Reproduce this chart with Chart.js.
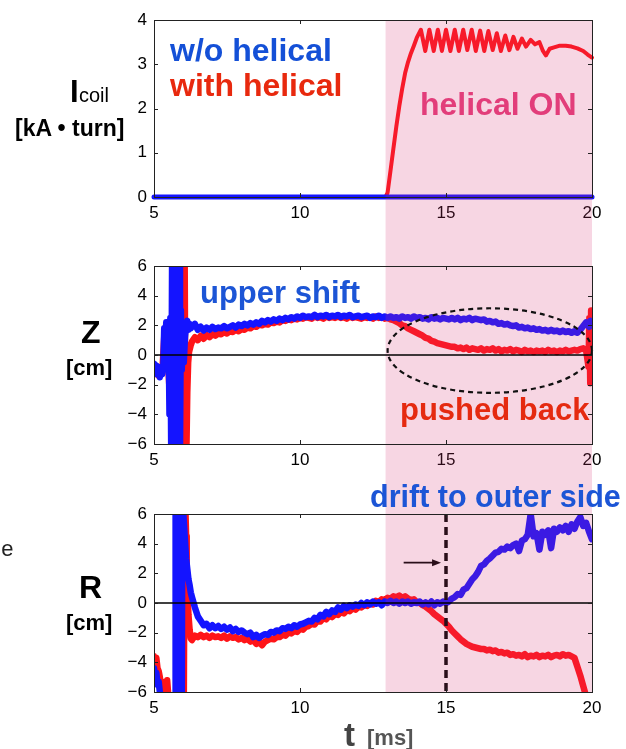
<!DOCTYPE html>
<html><head><meta charset="utf-8">
<script src="https://cdn.jsdelivr.net/npm/chart.js@4/dist/chart.umd.min.js"></script>
<style>
html,body{margin:0;padding:0;background:#fff;}
body{width:626px;height:749px;overflow:hidden;position:relative;font-family:"Liberation Sans",Arial,Helvetica,sans-serif;}
canvas{position:absolute;left:0;}
.t{position:absolute;white-space:nowrap;font-weight:bold;line-height:1;}
</style></head><body>
<canvas id="c1" width="626" height="240" style="top:0px"></canvas>
<canvas id="c2" width="626" height="245" style="top:240px"></canvas>
<canvas id="c3" width="626" height="264" style="top:485px"></canvas>

<div class="t" data-b="61" style="left:170px;font-size:32px;color:#1450d7">w/o helical</div>
<div class="t" data-b="96" style="left:170px;font-size:32px;color:#e8290e">with helical</div>
<div class="t" data-b="115" style="left:420px;font-size:32px;color:#e23d7a">helical ON</div>
<div class="t" data-b="303" style="left:200px;font-size:31px;color:#1c55d6">upper shift</div>
<div class="t" data-b="420" style="left:400px;font-size:31px;color:#e52a10">pushed back</div>
<div class="t" data-b="507" style="left:370px;font-size:30.5px;color:#1c55d6">drift to outer side</div>

<div class="t" data-b="102" style="left:70px;font-size:31px;color:#000">I</div>
<div class="t" data-b="102" style="left:79px;font-size:20px;font-weight:normal;color:#000">coil</div>
<div class="t" data-b="136" style="left:15px;font-size:23px;color:#000">[kA • turn]</div>
<div class="t" data-b="343" style="left:81px;font-size:32px;color:#000">Z</div>
<div class="t" data-b="376" style="left:66px;font-size:22px;color:#000">[cm]</div>
<div class="t" data-b="598" style="left:79px;font-size:32px;color:#000">R</div>
<div class="t" data-b="631" style="left:66px;font-size:22px;color:#000">[cm]</div>
<div class="t" data-b="746" style="left:344px;font-size:33px;color:#444">t</div>
<div class="t" data-b="746" style="left:367px;font-size:22px;color:#555">[ms]</div>
<div class="t" data-b="557" style="left:-11px;font-size:22px;font-weight:normal;color:#222">de</div>

<script>
// ---------- axis ticks ----------
const X_TICKS = [5, 10, 15, 20];
const I_TICKS = [0, 1, 2, 3, 4];
const ZR_TICKS = [-6, -4, -2, 0, 2, 4, 6];
const HELICAL_ON_T = 12.93;

// ---------- panel 1: coil current ----------
const I_blue_t = [5, 20];
const I_blue_v = [0, 0];
const I_red_t = [5, 12.93, 13.0, 13.1, 13.2, 13.3, 13.4, 13.5, 13.6, 13.7, 13.8, 13.9, 14.0,
  14.14, 14.29, 14.43, 14.58, 14.72, 14.86, 15.0, 15.15, 15.3, 15.44, 15.59, 15.73, 15.88, 16.02,
  16.17, 16.31, 16.45, 16.6, 16.74, 16.88, 17.03, 17.17, 17.31, 17.45, 17.6,
  17.74, 17.9, 18.05, 18.2, 18.32, 18.42, 18.55, 18.7, 18.9, 19.1, 19.3, 19.5, 19.7, 19.85, 20.0];
const I_red_v = [0, 0, 0.1, 0.6, 1.1, 1.6, 2.05, 2.45, 2.8, 3.05, 3.25, 3.42, 3.6,
  3.78, 3.3, 3.78, 3.3, 3.78, 3.3, 3.78, 3.3, 3.78, 3.3, 3.78, 3.32, 3.78, 3.3,
  3.76, 3.3, 3.75, 3.32, 3.7, 3.3, 3.65, 3.32, 3.62, 3.35, 3.58,
  3.4, 3.55, 3.45, 3.5, 3.3, 3.2, 3.35, 3.38, 3.42, 3.42, 3.4, 3.36, 3.3, 3.22, 3.15];

// ---------- shared time base for panels 2 and 3 (ms) ----------
const T_MAIN = [
  6.3, 6.4, 6.5, 6.6, 6.7, 6.8, 6.9, 7.0, 7.1, 7.2,
  7.3, 7.4, 7.5, 7.6, 7.7, 7.8, 7.9, 8.0, 8.1, 8.2,
  8.3, 8.4, 8.5, 8.6, 8.7, 8.8, 8.9, 9.0, 9.1, 9.2,
  9.3, 9.4, 9.5, 9.6, 9.7, 9.8, 9.9, 10.0, 10.1, 10.2,
  10.3, 10.4, 10.5, 10.6, 10.7, 10.8, 10.9, 11.0, 11.1, 11.2,
  11.3, 11.4, 11.5, 11.6, 11.7, 11.8, 11.9, 12.0, 12.1, 12.2,
  12.3, 12.4, 12.5, 12.6, 12.7, 12.8, 12.9, 13.0, 13.1, 13.2,
  13.3, 13.4, 13.5, 13.6, 13.7, 13.8, 13.9, 14.0, 14.1, 14.2,
  14.3, 14.4, 14.5, 14.6, 14.7, 14.8, 14.9, 15.0, 15.1, 15.2,
  15.3, 15.4, 15.5, 15.6, 15.7, 15.8, 15.9, 16.0, 16.1, 16.2,
  16.3, 16.4, 16.5, 16.6, 16.7, 16.8, 16.9, 17.0, 17.1, 17.2,
  17.3, 17.4, 17.5, 17.6, 17.7, 17.8, 17.9, 18.0, 18.1, 18.2,
  18.3, 18.4, 18.5, 18.6, 18.7, 18.8, 18.9, 19.0, 19.1, 19.2,
  19.3, 19.4, 19.5, 19.6, 19.7, 19.8];

// ---------- panel 2: Z ----------
const Z_blue_early = [[5.0,-0.6],[5.04,-1.1],[5.08,-0.7],[5.12,-1.3],[5.16,-0.8],[5.2,-1.5],[5.24,-0.9],[5.28,-1.3],[5.32,-0.7],
  [5.35,1.8],[5.38,0.6],[5.42,2.2],[5.46,0.0],[5.5,1.5],[5.53,-4.0],[5.56,2.5],[5.59,-6.5],[5.62,6.5],[5.65,-6.5],[5.68,6.5],
  [5.71,-6.5],[5.74,6.5],[5.77,-6.5],[5.8,6.5],[5.83,-6.5],[5.86,6.5],[5.89,-6.5],[5.92,3.0],[5.95,-1.0],[5.98,1.5],
  [6.02,-0.5],[6.06,1.2],[6.1,2.0],[6.14,2.3],[6.18,1.7],[6.22,2.1],[6.26,1.8]];
const Z_blue_main = [
  1.9, 2.1, 1.7, 1.9, 1.65, 1.85, 1.7, 1.9, 1.75, 1.85,
  1.8, 1.95, 1.8, 1.9, 2.0, 1.85, 2.05, 1.95, 2.1, 2.0,
  2.15, 2.05, 2.2, 2.1, 2.3, 2.2, 2.35, 2.25, 2.4, 2.3,
  2.45, 2.35, 2.5, 2.4, 2.55, 2.45, 2.6, 2.5, 2.65, 2.55,
  2.6, 2.55, 2.7, 2.55, 2.65, 2.6, 2.7, 2.55, 2.65, 2.6,
  2.7, 2.55, 2.65, 2.6, 2.7, 2.55, 2.6, 2.65, 2.55, 2.6,
  2.65, 2.5, 2.6, 2.55, 2.65, 2.5, 2.6, 2.5, 2.6, 2.5,
  2.55, 2.45, 2.6, 2.5, 2.55, 2.45, 2.6, 2.5, 2.55, 2.45,
  2.5, 2.4, 2.55, 2.45, 2.5, 2.4, 2.5, 2.45, 2.4, 2.5,
  2.4, 2.5, 2.35, 2.45, 2.4, 2.5, 2.35, 2.45, 2.4, 2.35,
  2.4, 2.25, 2.3, 2.2, 2.25, 2.1, 2.15, 2.05, 2.1, 2.0,
  1.95, 2.0, 1.85, 1.9, 1.8, 1.85, 1.75, 1.8, 1.7, 1.75,
  1.65, 1.7, 1.6, 1.7, 1.6, 1.65, 1.55, 1.65, 1.55, 1.6,
  1.5, 1.6, 1.5, 1.7, 1.95, 2.2];
const Z_blue_tail = [[19.9,1.9],[19.95,2.3],[20.0,2.0]];

const Z_red_early = [[5.0,-0.7],[5.05,-1.2],[5.1,-0.8],[5.15,-1.4],[5.2,-1.0],[5.25,-1.3],[5.3,-0.6],[5.35,1.2],[5.4,0.2],
  [5.45,1.8],[5.5,-1.2],[5.55,-3.0],[5.6,1.5],[5.65,-2.0],[5.7,1.0],[5.75,-1.5],[5.8,0.5],[5.85,-1.0],[5.9,0.5],
  [5.93,6.5],[5.96,-6.5],[5.99,6.5],[6.02,-6.5],[6.05,6.5],[6.08,-6.5],[6.11,-6.5],[6.14,-2.5],[6.17,-0.5],[6.2,0.2],[6.25,0.6]];
const Z_red_main = [
  0.9, 1.2, 1.0, 1.3, 1.1, 1.35, 1.2, 1.4, 1.3, 1.45,
  1.4, 1.55, 1.45, 1.6, 1.55, 1.7, 1.6, 1.75, 1.7, 1.85,
  1.8, 1.95, 1.9, 2.05, 2.0, 2.1, 2.05, 2.2, 2.15, 2.25,
  2.2, 2.35, 2.3, 2.4, 2.35, 2.45, 2.4, 2.5, 2.45, 2.55,
  2.5, 2.45, 2.6, 2.5, 2.55, 2.45, 2.6, 2.5, 2.55, 2.5,
  2.6, 2.5, 2.55, 2.45, 2.6, 2.5, 2.55, 2.5, 2.45, 2.55,
  2.5, 2.55, 2.45, 2.6, 2.5, 2.55, 2.45, 2.5, 2.4, 2.35,
  2.25, 2.15, 2.0, 1.95, 1.8, 1.7, 1.6, 1.5, 1.4, 1.3,
  1.15, 1.1, 0.95, 0.9, 0.8, 0.75, 0.7, 0.65, 0.6, 0.55,
  0.55, 0.45, 0.5, 0.4, 0.5, 0.35, 0.45, 0.4, 0.35, 0.45,
  0.3, 0.4, 0.35, 0.45, 0.3, 0.4, 0.25, 0.35, 0.3, 0.4,
  0.25, 0.35, 0.3, 0.2, 0.35, 0.25, 0.3, 0.2, 0.3, 0.25,
  0.3, 0.2, 0.35, 0.25, 0.3, 0.2, 0.3, 0.25, 0.35, 0.25,
  0.3, 0.35, 0.3, 0.4, 0.45, 0.3];
const Z_red_tail = [[19.88,-0.8],[19.91,2.5],[19.94,-1.9],[19.97,3.0],[20.0,-1.0]];

// ---------- panel 3: R ----------
const R_blue_early = [[5.0,-4.4],[5.04,-5.1],[5.08,-4.7],[5.12,-5.5],[5.16,-5.3],[5.2,-6.0],[5.24,-6.5],[5.5,-7],[5.72,-7],
  [5.74,7],[5.77,-7],[5.8,7],[5.83,-7],[5.86,7],[5.89,-7],[5.92,7],[5.95,-7],[5.97,7],[6.02,5.5],[6.06,4.2],
  [6.1,3.0],[6.14,2.3],[6.18,1.6],[6.22,1.2],[6.26,0.7]];
const R_blue_main = [
  0.4, -0.3, -0.9, -1.2, -1.5, -1.4, -1.7, -1.5, -1.7, -1.55,
  -1.75, -1.6, -1.8, -1.65, -1.9, -1.75, -1.95, -1.85, -2.0, -2.1,
  -2.0, -2.3, -2.15, -2.35, -2.2, -2.1, -2.15, -1.95, -2.0, -1.85,
  -1.9, -1.7, -1.75, -1.6, -1.7, -1.5, -1.6, -1.45, -1.4, -1.3,
  -1.2, -1.25, -1.0, -1.1, -0.8, -0.9, -0.6, -0.75, -0.5, -0.6,
  -0.3, -0.45, -0.2, -0.35, -0.15, -0.25, -0.1, -0.2, 0.0, -0.15,
  0.05, -0.1, 0.1, -0.05, 0.05, -0.15, 0.1, 0.0, 0.15, 0.0,
  0.1, -0.05, 0.1, 0.0, 0.1, -0.05, 0.05, 0.0, 0.1, -0.1,
  0.05, -0.1, 0.1, -0.15, 0.05, -0.05, 0.1, 0.0, 0.1, 0.3,
  0.4, 0.6, 0.55, 0.9, 1.0, 1.3, 1.6, 1.8, 2.1, 2.5,
  2.6, 2.85, 3.0, 3.2, 3.4, 3.45, 3.65, 3.6, 3.8, 3.7,
  3.9, 4.0, 3.5, 4.2, 4.3, 4.6, 6.0, 4.5, 4.7, 3.6,
  4.8, 4.6, 4.9, 3.7, 5.0, 4.8, 5.1, 4.9, 5.2, 4.8,
  5.3, 5.0, 5.5, 5.8, 5.2, 5.4];
const R_blue_tail = [[19.9,4.8],[20.0,4.3]];

const R_red_early = [[5.0,-3.6],[5.04,-3.9],[5.08,-3.7],[5.12,-4.4],[5.16,-4.6],[5.2,-5.0],[5.24,-5.6],[5.28,-5.3],[5.32,-6.2],
  [5.4,-6.5],[5.45,-5.2],[5.5,-6.5],[5.6,-7],[5.9,-7],[5.93,7],[5.96,-7],[5.99,7],[6.02,-7],[6.05,7],[6.08,6.0],
  [6.1,4.5],[6.12,2.0],[6.15,0.5],[6.18,-0.8],[6.22,-1.8],[6.26,-2.4]];
const R_red_main = [
  -2.5, -2.2, -2.3, -2.15, -2.3, -2.2, -2.35, -2.2, -2.3, -2.25,
  -2.35, -2.2, -2.4, -2.25, -2.35, -2.3, -2.45, -2.35, -2.5, -2.4,
  -2.6, -2.5, -2.75, -2.6, -2.85, -2.6, -2.5, -2.4, -2.45, -2.3,
  -2.3, -2.15, -2.2, -2.0, -2.05, -1.9, -1.95, -1.75, -1.8, -1.6,
  -1.55, -1.4, -1.45, -1.2, -1.25, -1.0, -1.1, -0.85, -0.95, -0.75,
  -0.8, -0.6, -0.7, -0.5, -0.55, -0.35, -0.45, -0.25, -0.3, -0.15,
  -0.2, 0.0, -0.1, 0.15, 0.05, 0.25, 0.2, 0.35, 0.3, 0.45,
  0.4, 0.5, 0.35, 0.45, 0.3, 0.2, 0.25, 0.05, 0.0, -0.15,
  -0.25, -0.4, -0.55, -0.75, -0.9, -1.05, -1.2, -1.4, -1.6, -1.85,
  -2.05, -2.25, -2.45, -2.6, -2.75, -2.85, -2.95, -3.0, -3.05, -3.1,
  -3.1, -3.2, -3.15, -3.25, -3.2, -3.35, -3.3, -3.4, -3.35, -3.5,
  -3.45, -3.55, -3.5, -3.6, -3.45, -3.65, -3.55, -3.6, -3.5, -3.65,
  -3.55, -3.6, -3.5, -3.65, -3.55, -3.5, -3.6, -3.45, -3.55, -3.5,
  -3.6, -3.7, -4.3, -4.9, -5.6, -6.3];
const R_red_tail = [[19.9,-7],[20.0,-7]];

// ---------- annotations (data coordinates) ----------
const ELLIPSE = {t: 16.5, z: 0.3, rt: 3.5, rz: 2.85};
const DASH_T = 15;
const ARROW = {t0: 13.55, t1: 14.83, r: 2.72};

// ---------- helpers ----------
function fromTV(ts, vs){ const n = Math.min(ts.length, vs.length); const out=[]; for(let i=0;i<n;i++) out.push({x:ts[i], y:vs[i]}); return out; }
function fromPairs(p){ return p.map(a=>({x:a[0], y:a[1]})); }
function series(early, main, tail){ return fromPairs(early).concat(fromTV(T_MAIN, main), fromPairs(tail)); }
const minusFmt = v => (v < 0 ? '\u2212' + Math.abs(v) : String(v));

const RED = '#ff1418', BLUE = '#1414ff';
const TICK_FONT = {family: '"Liberation Sans", Arial, Helvetica, sans-serif', size: 17};

function makeChart(id, cfg){
  const ctx = document.getElementById(id);
  const annot = {
    id: 'annot_' + id,
    afterDatasetsDraw(chart){
      const c = chart.ctx, a = chart.chartArea, xs = chart.scales.x, ys = chart.scales.y;
      c.save();
      const x0 = xs.getPixelForValue(HELICAL_ON_T);
      const top = cfg.bandTop(chart), bot = cfg.bandBottom(chart);
      c.fillStyle = 'rgba(215,50,115,0.2)';
      c.fillRect(x0, top, a.right - x0, bot - top);
      if (cfg.zeroLine){
        const y0 = ys.getPixelForValue(0);
        c.strokeStyle = '#000'; c.lineWidth = 1.6; c.setLineDash([]);
        c.beginPath(); c.moveTo(a.left, y0); c.lineTo(a.right, y0); c.stroke();
      }
      if (cfg.extra) cfg.extra(chart, c, a, xs, ys);
      c.setLineDash([]);
      c.strokeStyle = '#222'; c.lineWidth = 1;
      c.strokeRect(Math.round(a.left)+0.5, Math.round(a.top)+0.5, Math.round(a.right-a.left), Math.round(a.bottom-a.top));
      c.beginPath();
      X_TICKS.forEach(v=>{ const px = Math.round(xs.getPixelForValue(v))+0.5;
        c.moveTo(px, a.bottom); c.lineTo(px, a.bottom-4); c.moveTo(px, a.top); c.lineTo(px, a.top+4); });
      cfg.yTicks.forEach(v=>{ const py = Math.round(ys.getPixelForValue(v))+0.5;
        c.moveTo(a.left, py); c.lineTo(a.left+4, py); c.moveTo(a.right, py); c.lineTo(a.right-4, py); });
      c.stroke();
      c.restore();
    }
  };
  return new Chart(ctx, {
    type: 'scatter',
    data: {datasets: cfg.datasets.map(d=>Object.assign({
      showLine: true, pointRadius: 0, pointHoverRadius: 0, tension: 0, fill: false,
      borderJoinStyle: 'round', borderCapStyle: 'round', clip: cfg.clip
    }, d))},
    options: {
      responsive: false, animation: false, devicePixelRatio: 1, events: [],
      layout: {padding: {left: 0, right: 34, top: cfg.padTop, bottom: cfg.padBottom}},
      plugins: {legend: {display: false}, tooltip: {enabled: false}},
      scales: {
        x: {type: 'linear', min: 5, max: 20,
            afterBuildTicks: s => { s.ticks = X_TICKS.map(v=>({value:v})); },
            afterFit: s => { s.height = 30; },
            grid: {display: false, drawTicks: false}, border: {display: false},
            ticks: {font: TICK_FONT, color: '#000', padding: 6, maxRotation: 0, autoSkip: false}},
        y: {type: 'linear', min: cfg.yMin, max: cfg.yMax,
            afterBuildTicks: s => { s.ticks = cfg.yTicks.map(v=>({value:v})); },
            afterFit: s => { s.width = 154; },
            grid: {display: false, drawTicks: false}, border: {display: false},
            ticks: {font: TICK_FONT, color: '#000', padding: 7, autoSkip: false, callback: minusFmt}}
      }
    },
    plugins: [annot]
  });
}

// Panel 1
makeChart('c1', {
  yMin: 0, yMax: 4, yTicks: I_TICKS, padTop: 20, padBottom: 13, clip: 4,
  bandTop: ch => ch.chartArea.top, bandBottom: ch => ch.height,
  datasets: [
    {data: fromTV(I_blue_t, I_blue_v), borderColor: BLUE, borderWidth: 5},
    {data: fromTV(I_red_t, I_red_v), borderColor: RED, borderWidth: 4}
  ]
});

// Panel 2
makeChart('c2', {
  yMin: -6, yMax: 6, yTicks: ZR_TICKS, padTop: 26, padBottom: 11, clip: 0, zeroLine: true,
  bandTop: ch => 0, bandBottom: ch => ch.height,
  datasets: [
    {data: series(Z_blue_early, Z_blue_main, Z_blue_tail), borderColor: BLUE, borderWidth: 6.5},
    {data: series(Z_red_early, Z_red_main, Z_red_tail), borderColor: RED, borderWidth: 6.5}
  ],
  extra: (chart, c, a, xs, ys) => {
    const cx = xs.getPixelForValue(ELLIPSE.t), cy = ys.getPixelForValue(ELLIPSE.z);
    const rx = xs.getPixelForValue(ELLIPSE.t + ELLIPSE.rt) - cx;
    const ry = cy - ys.getPixelForValue(ELLIPSE.z + ELLIPSE.rz);
    c.strokeStyle = '#111'; c.lineWidth = 2.2; c.setLineDash([5, 4]);
    c.beginPath(); c.ellipse(cx, cy, rx, ry, 0, 0, Math.PI*2); c.stroke();
  }
});

// Panel 3
makeChart('c3', {
  yMin: -6, yMax: 6, yTicks: ZR_TICKS, padTop: 29, padBottom: 27, clip: 0, zeroLine: true,
  bandTop: ch => 0, bandBottom: ch => ch.chartArea.bottom,
  datasets: [
    {data: series(R_blue_early, R_blue_main, R_blue_tail), borderColor: BLUE, borderWidth: 6.5},
    {data: series(R_red_early, R_red_main, R_red_tail), borderColor: RED, borderWidth: 6.5}
  ],
  extra: (chart, c, a, xs, ys) => {
    const xd = xs.getPixelForValue(DASH_T);
    c.strokeStyle = '#2a0f1a'; c.lineWidth = 3.5; c.setLineDash([8, 5]);
    c.beginPath(); c.moveTo(xd, a.top); c.lineTo(xd, a.bottom); c.stroke();
    const x0 = xs.getPixelForValue(ARROW.t0), x1 = xs.getPixelForValue(ARROW.t1), y = ys.getPixelForValue(ARROW.r);
    c.setLineDash([]); c.lineWidth = 1.6; c.strokeStyle = '#2a0f1a'; c.fillStyle = '#2a0f1a';
    c.beginPath(); c.moveTo(x0, y); c.lineTo(x1 - 6, y); c.stroke();
    c.beginPath(); c.moveTo(x1, y); c.lineTo(x1 - 9, y - 3.5); c.lineTo(x1 - 9, y + 3.5); c.closePath(); c.fill();
  }
});

document.querySelectorAll('[data-b]').forEach(el => {
  const f = parseFloat(getComputedStyle(el).fontSize);
  el.style.top = (parseFloat(el.dataset.b) - 0.8465 * f) + 'px';
});
</script>
</body></html>
